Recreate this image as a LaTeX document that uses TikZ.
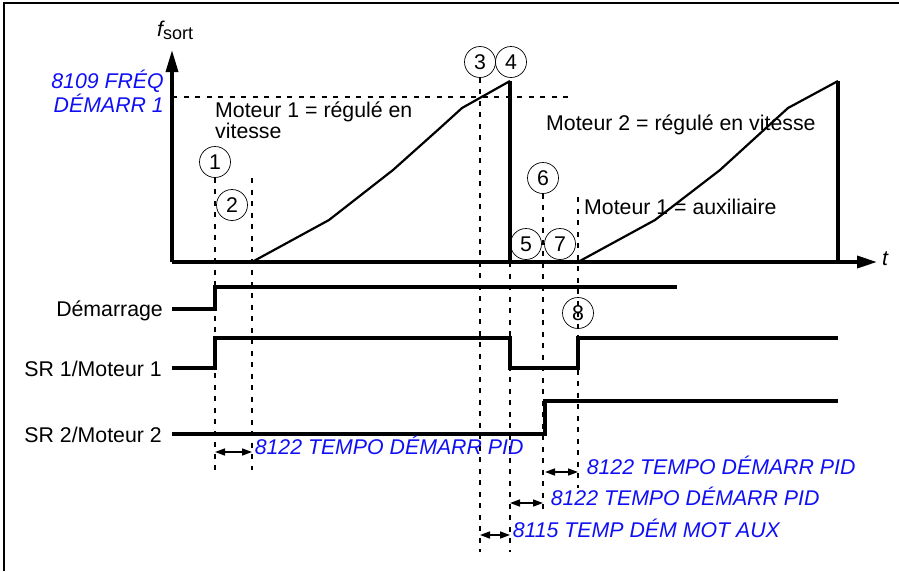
\documentclass[tikz,border=0pt]{standalone}
\usepackage{fontspec}
\setmainfont{Liberation Sans}
\usetikzlibrary{arrows.meta,calc,positioning}
\definecolor{parcol}{RGB}{15,15,245}
\newcommand{\bigfont}{\fontsize{21.3}{18.5}\selectfont}

\begin{document}
\begin{tikzpicture}[x=1pt,y=-1pt,>=Triangle,
  sig/.style={line width=3.4pt},
  curve/.style={line width=2.2pt,line join=round},
  guide/.style={line width=2pt,dash pattern=on 5pt off 6.5pt},
  evt/.style={circle,draw,line width=0.7pt,minimum size=31pt,inner sep=0pt,font=\bigfont},
  txt/.style={font=\bigfont,inner sep=0pt},
  par/.style={parcol,font=\bigfont\itshape,inner sep=0pt},
  span/.style={{Triangle[length=10pt,width=7pt]}-{Triangle[length=10pt,width=7pt]},line width=1.5pt}]
\useasboundingbox (0,0) rectangle (899,571);
\draw[line width=1.4pt] (4,571) -- (4,3) -- (899,3);
% ---- axes ----
\coordinate (O) at (172,262);
\coordinate (ytip) at (172,50);
\coordinate (xtip) at (877,262);
\draw[sig,-{Triangle[length=22pt,width=12pt]}] (O) -- (ytip);
\draw[sig,-{Triangle[length=20pt,width=12pt]}] (O) -- (xtip);
\node[txt,anchor=base west] (fsort) at (157,36) {\itshape f\upshape{\fontsize{18}{18}\selectfont\raisebox{-3pt}{sort}}};
\node[txt,anchor=base west] (t) at (882,265) {\itshape t};
% ---- event times ----
\coordinate (T1) at (215,0); \coordinate (T2) at (252,0);
\coordinate (T3) at (480,0); \coordinate (T4) at (510,0);
\coordinate (T6) at (543,0); \coordinate (T8) at (578,0);
\node[evt] (c1) at (215,162) {1};
\node[evt] (c2) at (232,205) {2};
\node[evt] (c3) at (480,62) {3};
\node[evt] (c4) at (511,62) {4};
\node[evt] (c5) at (526,244) {5};
\node[evt] (c6) at (543,178) {6};
\node[evt] (c7) at (560,244) {7};
\node[evt] (c8) at (578,313) {8};
% ---- start frequency ----
\draw[guide] (O |- 0,97) -- (570,97);
\node[par,align=right,anchor=base east] (fstart) at (164,112) {8109 FRÉQ\\DÉMARR 1};
% ---- frequency curves ----
\draw[curve] (T2 |- O) -- (329,220) -- (393,170) -- (440,128) -- (462,108) -- (510,81);
\draw[sig] (510,81) -- (T4 |- O);
\draw[curve] (T8 |- O) -- (655,220) -- (720,170) -- (766,128) -- (788,108) -- (838,81);
\draw[sig] (838,81) -- (838,262);
\node[txt,align=left,anchor=base west] (m1) at (215,138) {Moteur 1 = régulé en\\vitesse};
\node[txt,anchor=base west] (m2) at (546,130) {Moteur 2 = régulé en vitesse};
\node[txt,anchor=base west] (m1aux) at (584,214) {Moteur 1 = auxiliaire};
% ---- guides ----
\draw[guide] (c1.south) -- (T1 |- 0,470);
\draw[guide] (T2 |- 0,178) -- (T2 |- 0,470);
\draw[guide] (c3.south) -- (T3 |- 0,552);
\draw[guide] (T4 |- O) -- (T4 |- 0,552);
\draw[guide] (c6.south) -- (T6 |- 0,512);
\draw[guide] (T8 |- 0,197) -- (T8 |- 0,488);
% ---- relay signals ----
\node[txt,anchor=base east] (lstart) at (163,316) {Démarrage};
\node[txt,anchor=base east] (lsr1) at (162,376) {SR 1/Moteur 1};
\node[txt,anchor=base east] (lsr2) at (162,442) {SR 2/Moteur 2};
\draw[sig] (172,309) -- (T1 |- 0,309) -- (T1 |- 0,287) -- (677,287);
\draw[sig] (172,368) -- (T1 |- 0,368) -- (T1 |- 0,338) -- (T4 |- 0,338) -- (T4 |- 0,368) -- (T8 |- 0,368) -- (T8 |- 0,338) -- (838,338);
\draw[sig] (172,434) -- (545,434) -- (545,401) -- (838,401);
% ---- delays ----
\coordinate (r1) at (0,452); \coordinate (r2) at (0,472);
\coordinate (r3) at (0,503); \coordinate (r4) at (0,535);
\draw[span] (T1 |- r1) -- (T2 |- r1) node[par,anchor=mid west,xshift=2pt] (d1) {8122 TEMPO DÉMARR PID};
\draw[span] (545,472) -- (T8 |- r2) node[par,anchor=mid west,xshift=8pt] (d2) {8122 TEMPO DÉMARR PID};
\draw[span] (T4 |- r3) -- (T6 |- r3) node[par,anchor=mid west,xshift=7pt] (d3) {8122 TEMPO DÉMARR PID};
\draw[span] (T3 |- r4) -- (T4 |- r4) node[par,anchor=mid west,xshift=2pt] (d4) {8115 TEMP DÉM MOT AUX};
\end{tikzpicture}
\end{document}
